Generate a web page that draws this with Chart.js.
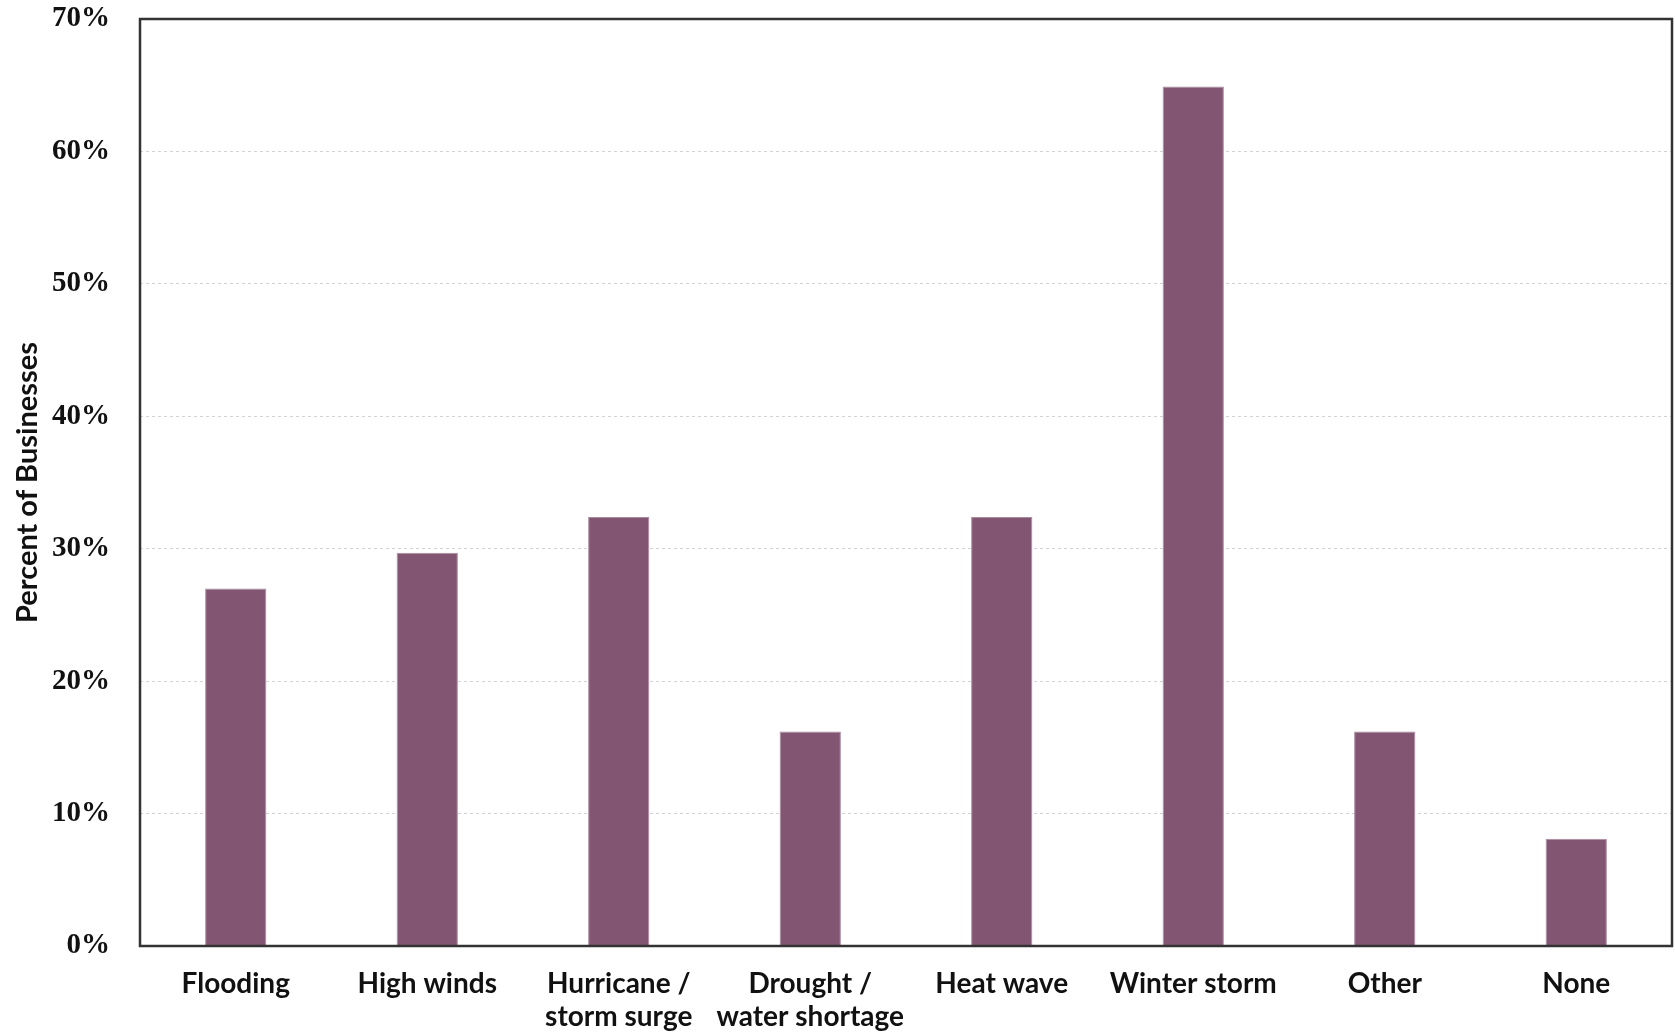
<!DOCTYPE html>
<html>
<head>
<meta charset="utf-8">
<script src="https://cdn.jsdelivr.net/npm/chart.js@4"></script>
<style>
  html, body { margin: 0; padding: 0; background: #fff; }
  #parent { width: 1675px; height: 1036px; position: relative; }
</style>
</head>
<body>
<div id="parent"><canvas id="myChart"></canvas></div>
<script>
const categories = [
    'Flooding',
    'High winds',
    ['Hurricane /', 'storm surge'],
    ['Drought /', 'water shortage'],
    'Heat wave',
    'Winter storm',
    'Other',
    'None'
];
const percentBusinesses = [27.0, 29.7, 32.4, 16.2, 32.4, 64.9, 16.2, 8.1];
const yMin = 0;
const yMax = 70;
const yStep = 10;

// box around the plot area (top + right edges too)
const plotFrame = {
    id: 'plotFrame',
    afterDraw(chart) {
        const { ctx, chartArea: a } = chart;
        ctx.save();
        ctx.strokeStyle = '#333';
        ctx.lineWidth = 2.5;
        ctx.strokeRect(a.left, a.top, a.right - a.left, a.bottom - a.top);
        ctx.restore();
    }
};

const chartSettings = {
    type: 'bar',
    data: {
        labels: categories,
        datasets: [{
            data: percentBusinesses,
            backgroundColor: '#825672',
            borderColor: '#a98a9f',
            borderWidth: 1,
            barPercentage: 0.32,
            categoryPercentage: 1
        }]
    },
    options: {
        animation: false,
        responsive: true,
        maintainAspectRatio: false,
        layout: { padding: { top: 19, right: 3, left: 0, bottom: 0 } },
        plugins: { legend: { display: false }, tooltip: { enabled: false } },
        scales: {
            y: {
                min: yMin,
                max: yMax,
                ticks: {
                    stepSize: yStep,
                    color: '#111',
                    padding: 30,
                    font: { family: '"Liberation Serif", serif', size: 29, weight: 'bold' },
                    callback: v => v + '%'
                },
                grid: { color: '#d2d2d2', lineWidth: 1, drawTicks: false },
                border: { display: false, dash: [3, 3] },
                title: {
                    display: true,
                    text: 'Percent of Businesses',
                    color: '#111',
                    padding: { top: 10, bottom: 0 },
                    font: { family: 'Lato', size: 29, weight: 'bold' }
                },
                afterFit: scale => {
                    scale.width = 140;
                    scale.paddingTop = 0;
                    scale.paddingBottom = 0;
                }
            },
            x: {
                ticks: {
                    color: '#111',
                    padding: 13,
                    maxRotation: 0,
                    autoSkip: false,
                    font: { family: 'Lato', size: 28, weight: 'bold', lineHeight: 1.2 }
                },
                grid: { display: false },
                border: { display: false },
                afterFit: scale => { scale.height = 90; }
            }
        }
    },
    plugins: [plotFrame]
};

window.onload = function () {
    const ctx = document.getElementById('myChart').getContext('2d');
    new Chart(ctx, chartSettings);
};
</script>
</body>
</html>
